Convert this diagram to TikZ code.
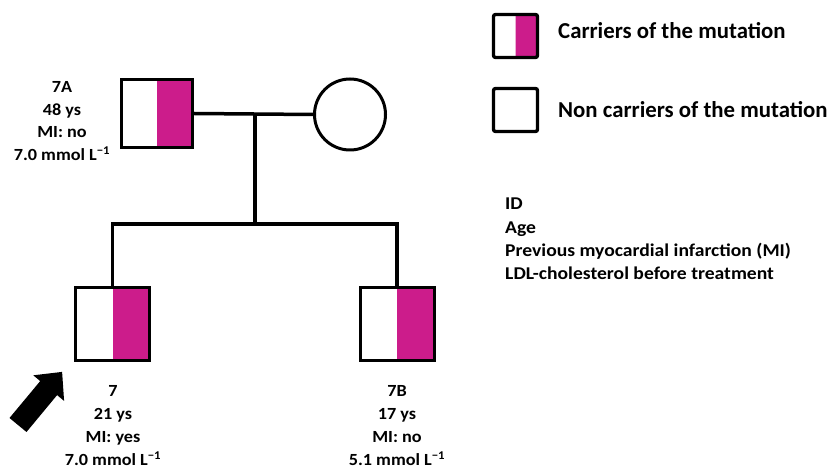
\documentclass[tikz,border=0pt]{standalone}
\usepackage{fontspec}
\setmainfont{Carlito}
\newfontfamily\labfont[FakeStretch=1.07]{Carlito}
\newfontfamily\infofont[FakeStretch=1.09]{Carlito}
\definecolor{carrier}{RGB}{204,28,139}
\begin{document}
\begin{tikzpicture}[x=1pt,y=-1pt,
  box/.style={draw,line width=3pt,rectangle,inner sep=0pt},
  carrierbox/.style={box,path picture={\fill[carrier] (path picture bounding box.north) rectangle (path picture bounding box.south east);}},
  lnk/.style={line width=3.5pt,line join=miter},
  lab/.style={inner sep=0pt,anchor=base,font=\labfont\bfseries\fontsize{17}{20}\selectfont},
  legtext/.style={anchor=base west,inner sep=0pt,font=\bfseries\fontsize{22.8}{26}\selectfont},
  info/.style={anchor=base west,inner sep=0pt,font=\infofont\bfseries\fontsize{18}{20}\selectfont}]
\useasboundingbox (0,0) rectangle (828,470);
% pedigree
\node[carrierbox,minimum width=71pt,minimum height=68pt] (f) at (157,113.5) {};
\node[draw,line width=3pt,circle,minimum size=71pt,inner sep=0pt] (m) at (350,114.5) {};
\node[carrierbox,minimum width=74pt,minimum height=73pt] (c7) at (112.5,324) {};
\node[carrierbox,minimum width=74pt,minimum height=73pt] (c7b) at (397,324) {};
\coordinate (mid) at (255,114);
\coordinate (sib) at (255,224);
\draw[lnk] (f.east) -- (m.west);
\draw[lnk] (mid) -- (sib);
\draw[lnk] (c7.north) |- (sib) -| (c7b.north);
% labels
\foreach \t [count=\i] in {7A,48 ys,MI: no,{7.0 mmol L\textsuperscript{−1}}}
  \node[lab] (lf\i) at (62,{93+(\i-1)*22.5}) {\t};
\foreach \t [count=\i] in {7,21 ys,MI: yes,{7.0 mmol L\textsuperscript{−1}}}
  \node[lab] (lc\i) at (113,{397+(\i-1)*22.8}) {\t};
\foreach \t [count=\i] in {7B,17 ys,MI: no,{5.1 mmol L\textsuperscript{−1}}}
  \node[lab] (lb\i) at (397,{397+(\i-1)*22.8}) {\t};
% proband arrow
\fill (26.5,432.0) -- (57.1,395.1) -- (64.1,400.9) -- (62.1,371.9) -- (33.3,375.3) -- (40.2,381.1) -- (9.5,418.0) -- cycle;
% legend
\node[box,line width=3.3pt,rounded corners=2pt,minimum width=44pt,minimum height=43pt,path picture={\fill[carrier] (path picture bounding box.north) rectangle (path picture bounding box.south east);}] (lg1) at (515.5,36) {};
\node[box,line width=3.3pt,rounded corners=2pt,minimum width=44pt,minimum height=43pt] (lg2) at (515.5,110) {};
\node[legtext] (t1) at (558,39) {Carriers of the mutation};
\node[legtext] (t2) at (558,118) {Non carriers of the mutation};
\foreach \t [count=\i] in {ID,Age,Previous myocardial infarction (MI),LDL-cholesterol before treatment}
  \node[info] (inf\i) at (505,{210+(\i-1)*23.3}) {\t};
\end{tikzpicture}
\end{document}
